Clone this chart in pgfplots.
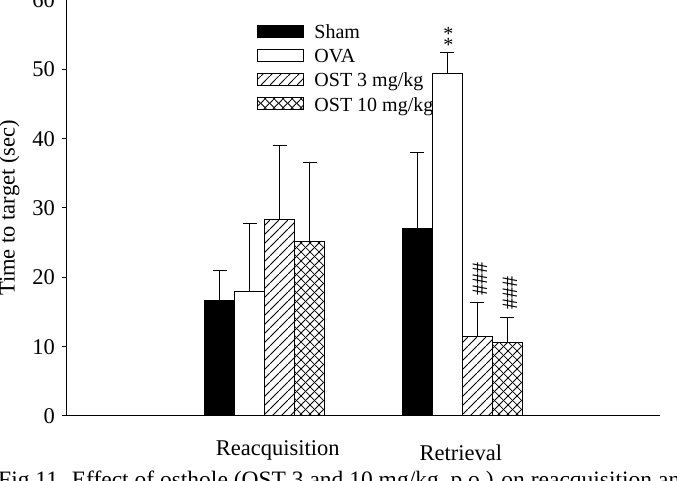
\documentclass[border=0pt]{standalone}
\usepackage{fontspec}
\setmainfont{Liberation Serif}
\usepackage{pgfplots}
\pgfplotsset{compat=1.18}
\usetikzlibrary{patterns}
\pgfdeclarepatternformonly{mylines}{\pgfpointorigin}{\pgfpoint{9pt}{9pt}}{\pgfpoint{9pt}{9pt}}{%
  \pgfsetlinewidth{0.9pt}%
  \pgfpathmoveto{\pgfpoint{-1pt}{-1pt}}\pgfpathlineto{\pgfpoint{10pt}{10pt}}\pgfusepath{stroke}}
\pgfdeclarepatternformonly{myhatch}{\pgfpointorigin}{\pgfpoint{9pt}{9pt}}{\pgfpoint{9pt}{9pt}}{%
  \pgfsetlinewidth{0.9pt}%
  \pgfpathmoveto{\pgfpoint{-1pt}{-1pt}}\pgfpathlineto{\pgfpoint{10pt}{10pt}}\pgfusepath{stroke}%
  \pgfpathmoveto{\pgfpoint{-1pt}{10pt}}\pgfpathlineto{\pgfpoint{10pt}{-1pt}}\pgfusepath{stroke}}
\begin{document}
\begin{tikzpicture}
\useasboundingbox (0,0) rectangle (677pt,481pt);
\clip (0,0) rectangle (677pt,481pt);
\begin{axis}[
  at={(67pt,65pt)}, anchor=south west,
  scale only axis, width=593pt, height=416pt,
  xmin=-1, xmax=2, ymin=0, ymax=60,
  axis lines=left, axis line style={-, line width=1pt},
  ytick={0,10,...,60},
  xtick={0.0657,0.992},
  xticklabels={Reacquisition,{\raisebox{-5pt}{Retrieval}}},
  x tick style={draw=none},
  y tick style={line width=1pt, black},
  tick align=outside, major tick length=5pt,
  /pgf/number format/assume math mode=true,
  ticklabel style={font=\fontsize{22.5}{26}\selectfont},
  xticklabel style={anchor=base, yshift=-35pt},
  yticklabel style={inner sep=0pt, xshift=-7pt},
  ylabel={Time to target (sec)},
  ylabel style={font=\fontsize{22.5}{26}\selectfont, at={(axis description cs:-0.0885,0.5)}, anchor=base},
  ybar=0pt, bar width=30pt,
  error bars/y dir=plus, error bars/y explicit,
  error bars/error bar style={line width=1pt, black, solid},
  error bars/error mark options={black, line width=1pt, mark size=7pt, rotate=90},
  legend style={draw=none, fill=none, at={(rel axis cs:0.3212,0.945)}, anchor=north west,
    inner sep=0pt, outer sep=0pt, row sep=5pt, column sep=8pt,
    font=\fontsize{20}{24}\selectfont},
  legend cell align=left,
  legend image code/.code={\draw[#1, line width=1pt] (0pt,-4.5pt) rectangle (46pt,7.5pt);},
]
\addplot[draw=black, line width=1pt, fill=black] coordinates {(0,16.7) +- (0,4.3) (1,27.1) +- (0,10.9)};
\addlegendentry{Sham}
\addplot[draw=black, line width=1pt, fill=white] coordinates {(0,17.9) +- (0,9.9) (1,49.4) +- (0,3.0)};
\addlegendentry{OVA}
\addplot[draw=black, line width=1pt, pattern=mylines, pattern color=black] coordinates {(0,28.3) +- (0,10.7) (1,11.4) +- (0,5.0)};
\addlegendentry{OST 3 mg/kg}
\addplot[draw=black, line width=1pt, pattern=myhatch, pattern color=black] coordinates {(0,25.2) +- (0,11.3) (1,10.6) +- (0,3.6)};
\addlegendentry{OST 10 mg/kg}
\node[font=\fontsize{20}{24}\selectfont, inner sep=0pt] at (axis cs:0.930,55.15) {*};
\node[font=\fontsize{20}{24}\selectfont, inner sep=0pt] at (axis cs:0.930,53.57) {*};
\node[rotate=90, font=\fontsize{22}{24}\selectfont, inner sep=0pt] at (axis cs:1.089,19.8) {\#\#\#};
\node[rotate=90, font=\fontsize{22}{24}\selectfont, inner sep=0pt] at (axis cs:1.241,17.7) {\#\#\#};
\end{axis}
\node[anchor=base west, inner sep=0pt, font=\fontsize{23.5}{27}\selectfont] at (-2pt,-7pt) {Fig.11. Effect of osthole (OST 3 and 10 mg/kg, p.o.) on reacquisition and retrieval};
\end{tikzpicture}
\end{document}
